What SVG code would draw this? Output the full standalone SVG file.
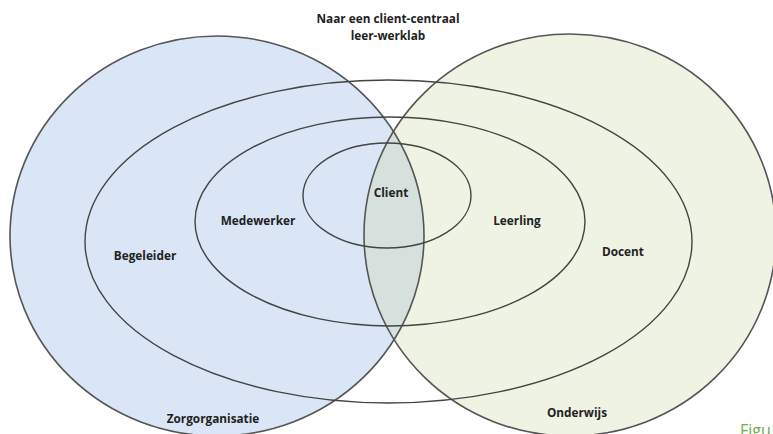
<svg xmlns="http://www.w3.org/2000/svg" width="773" height="434" viewBox="0 0 773 434">
<style>
.lbl{font-family:"Open Sans","Liberation Sans",sans-serif;font-weight:bold;font-size:11.8px;fill:#222;text-anchor:middle}
.ring{fill:none;stroke:#444;stroke-width:1.4}
.edge{fill:none;stroke:#555;stroke-width:1.6}
</style>
<defs>
<clipPath id="clipBlue"><ellipse cx="217" cy="236" rx="207" ry="200"/></clipPath>
</defs>
<rect width="773" height="434" fill="#ffffff"/>
<g id="zorgorganisatie">
<ellipse cx="217" cy="236" rx="207" ry="200" fill="#dae6f5"/>
</g>
<g id="onderwijs">
<ellipse cx="570" cy="235" rx="206" ry="201" fill="#eff3e3"/>
<ellipse cx="570" cy="235" rx="206" ry="201" fill="#d6e0dd" clip-path="url(#clipBlue)"/>
</g>
<g id="outlines">
<ellipse class="edge" cx="217" cy="236" rx="207" ry="200"/>
<ellipse class="edge" cx="570" cy="235" rx="206" ry="201"/>
</g>
<g id="connectors"/>
<g id="ring-outer"><ellipse class="ring" cx="388.5" cy="241.5" rx="303.5" ry="161.5"/></g>
<g id="ring-middle"><ellipse class="ring" cx="390" cy="221.5" rx="195" ry="104.5"/></g>
<g id="ring-inner"><ellipse class="ring" cx="387" cy="195.5" rx="84" ry="52.5"/></g>
<g id="title">
<text class="lbl" x="388" y="23">Naar een client-centraal</text>
<text class="lbl" x="388" y="40">leer-werklab</text>
</g>
<g id="labels">
<text class="lbl" x="391" y="197">Client</text>
<text class="lbl" x="258" y="225">Medewerker</text>
<text class="lbl" x="517" y="225">Leerling</text>
<text class="lbl" x="145" y="260">Begeleider</text>
<text class="lbl" x="623" y="256">Docent</text>
<text class="lbl" x="213" y="423">Zorgorganisatie</text>
<text class="lbl" x="577" y="417">Onderwijs</text>
</g>
<text x="740" y="436" font-family="'Open Sans','Liberation Sans',sans-serif" font-size="16" fill="#70ad47">Figu</text>
</svg>
